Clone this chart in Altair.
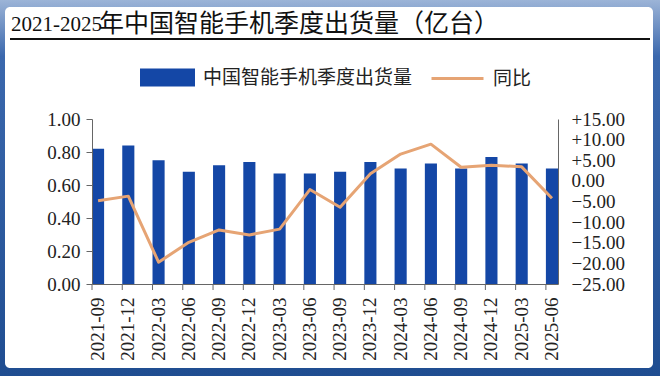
import altair as alt
import pandas as pd

# ---------------- data ----------------
quarters = ["2021-09", "2021-12", "2022-03", "2022-06", "2022-09", "2022-12",
            "2023-03", "2023-06", "2023-09", "2023-12", "2024-03", "2024-06",
            "2024-09", "2024-12", "2025-03", "2025-06"]
shipments = [0.82, 0.84, 0.75, 0.68, 0.72, 0.74, 0.67, 0.67, 0.68, 0.74,
             0.70, 0.73, 0.70, 0.77, 0.73, 0.70]
yoy = [-4.8, -3.7, -19.7, -14.9, -11.9, -13.1, -11.7, -2.1, -6.4, 1.7,
       6.5, 8.9, 3.3, 3.8, 3.4, -4.2]
left_ticks = [0.0, 0.2, 0.4, 0.6, 0.8, 1.0]
right_ticks = [-25, -20, -15, -10, -5, 0, 5, 10, 15]
series_bar = "中国智能手机季度出货量"
series_line = "同比"
title_num = "2021-2025"
title_cn = "年中国智能手机季度出货量（亿台）"

df = pd.DataFrame({"q": quarters, "ship": shipments, "yoy": yoy,
                   "s1": series_bar, "s2": series_line})
one = alt.Data(values=[{"a": 1}])

W, H = 466, 165
PL, PT = 92, 119
SERIF = "Liberation Serif"
CJK = "Noto Sans CJK SC"
BAR = "#1447a6"
LINE = "#e6a474"
AXC = "#666"

xscale = alt.Scale(domain=quarters, paddingInner=0.6, paddingOuter=0)

# ---------------- decorations ----------------
frame = alt.Chart(one).mark_rect(
    color=alt.LinearGradient(
        gradient="linear",
        stops=[alt.GradientStop(color="#9cb4d7", offset=0),
               alt.GradientStop(color="#3b68ad", offset=0.15),
               alt.GradientStop(color="#1f4d91", offset=1)],
        x1=0, x2=0, y1=0, y2=1)
).encode(x=alt.value(-PL), x2=alt.value(660 - PL),
         y=alt.value(-PT), y2=alt.value(376 - PT))

panel = alt.Chart(one).mark_rect(color="white", cornerRadius=5).encode(
    x=alt.value(5 - PL), x2=alt.value(653 - PL),
    y=alt.value(7 - PT), y2=alt.value(368 - PT))

title_rule = alt.Chart(one).mark_rule(color="#111", strokeWidth=2).encode(
    x=alt.value(10 - PL), x2=alt.value(650 - PL), y=alt.value(39 - PT))

title1 = alt.Chart(one).mark_text(
    text=title_num, font=SERIF, fontSize=21, align="left",
    baseline="alphabetic", color="#111").encode(
    x=alt.value(11 - PL), y=alt.value(31 - PT))

title2 = alt.Chart(one).mark_text(
    text=title_cn, font=CJK, fontSize=25, align="left",
    baseline="alphabetic", color="#111").encode(
    x=alt.value(99 - PL), y=alt.value(32 - PT))

# ---------------- data layers ----------------
bars = alt.Chart(df).mark_bar(color=BAR).encode(
    x=alt.X("q:N", sort=quarters, scale=xscale,
            axis=alt.Axis(title=None, labelAngle=-90, ticks=False, zindex=1,
                          labelFont=SERIF, labelFontSize=19, labelColor="#222",
                          labelPadding=13, domainColor=AXC, labelBaseline="middle",
                          labelAlign="right")),
    y=alt.Y("ship:Q", scale=alt.Scale(domain=[0, 1], nice=False),
            axis=alt.Axis(title=None, values=left_ticks, format=".2f", zindex=1,
                          labelFont=SERIF, labelFontSize=19, labelColor="#222",
                          tickSize=6, tickColor=AXC, domainColor=AXC,
                          labelPadding=6, grid=False)),
    color=alt.Color("s1:N", scale=alt.Scale(domain=[series_bar], range=[BAR]),
                    legend=alt.Legend(orient="none", legendX=140 - PL,
                                      legendY=50 - PT, title=None,
                                      symbolType="M-1,-0.33H1V0.33H-1Z",
                                      symbolSize=3025, symbolStrokeWidth=0,
                                      labelFont=CJK, labelFontSize=19,
                                      labelColor="#222", labelOffset=8,
                                      labelLimit=0, padding=0, zindex=1)),
)

xticks = alt.Chart(df).mark_rule(color=AXC, strokeWidth=1).encode(
    x=alt.X("q:N", sort=quarters, scale=xscale, bandPosition=0),
    y=alt.value(H), y2=alt.value(H + 6))

line = alt.Chart(df).mark_line(strokeWidth=3, strokeJoin="round").encode(
    x=alt.X("q:N", sort=quarters, scale=xscale),
    y=alt.Y("yoy:Q", scale=alt.Scale(domain=[-25, 15], nice=False),
            axis=alt.Axis(title=None, orient="right", values=right_ticks, zindex=1,
                          labelExpr="datum.value > 0 ? '+' + format(datum.value, '.2f') : format(datum.value, '.2f')",
                          labelFont=SERIF, labelFontSize=19, labelColor="#222",
                          ticks=False, domainColor=AXC, labelPadding=13,
                          grid=False)),
    stroke=alt.Stroke("s2:N", scale=alt.Scale(domain=[series_line], range=[LINE]),
                      legend=alt.Legend(orient="none", legendX=430 - PL,
                                        legendY=51 - PT, title=None,
                                        symbolType="stroke", symbolSize=2704,
                                        symbolStrokeWidth=3,
                                        labelFont=CJK, labelFontSize=19,
                                        labelColor="#222", labelOffset=8,
                                        labelLimit=0, padding=0, zindex=1)),
)

chart = alt.layer(frame, panel, title_rule, title1, title2, bars, xticks, line).resolve_scale(
    y="independent", color="independent", stroke="independent"
).properties(
    width=W, height=H,
    autosize=alt.AutoSizeParams(type="none"),
    padding={"left": PL, "top": PT, "right": 660 - PL - W, "bottom": 376 - PT - H},
    background="white",
).configure_view(stroke=None)

chart.save("out.html", embed_options={"renderer": "svg", "actions": False})
